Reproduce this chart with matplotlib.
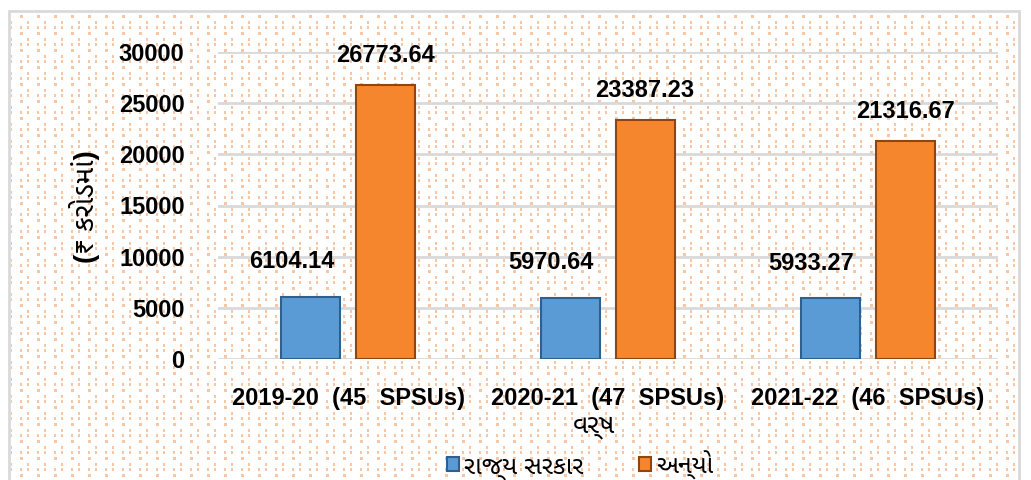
import numpy as np
import matplotlib.pyplot as plt
from matplotlib.patches import Rectangle


CATEGORIES = ["2019-20  (45  SPSUs)", "2020-21  (47  SPSUs)", "2021-22  (46  SPSUs)"]
STATE_GOVT = [6104.14, 5970.64, 5933.27]
OTHERS = [26773.64, 23387.23, 21316.67]
SERIES_NAMES = ["રાજ્ય સરકાર", "અન્યો"]
Y_TICKS = [0, 5000, 10000, 15000, 20000, 25000, 30000]
Y_LABEL = "(₹ કરોડમાં)"
X_LABEL = "વર્ષ"

FONT = ["Liberation Sans", "Noto Sans Gujarati", "DejaVu Sans"]
BLUE, BLUE_EDGE = "#5b9bd5", "#2f5f8c"
ORANGE, ORANGE_EDGE = "#f5862e", "#8f4510"
W, H = 1031, 480


def dotted_background():
    img = np.ones((H, W, 3))
    yy, xx = np.mgrid[0:H, 0:W]
    px, py = (xx - 10) % 17, (yy - 12) % 17
    dots = (((px >= 10) & (px < 13) & (py >= 3) & (py < 6))
            | ((px < 2) & (py >= 9) & (py < 12))
            | ((px >= 10) & (px < 12) & (py >= 14))
            | ((px < 2) & (py >= 14)))
    inside = (xx > 10) & (xx < 1018) & (yy > 12)
    img[dots & inside] = np.array([248, 198, 162]) / 255
    return img


def main():
    plt.rcParams["font.family"] = FONT
    fig = plt.figure(figsize=(W / 100, H / 100), dpi=100)
    fig.patch.set_facecolor("white")
    fig.figimage(dotted_background(), 0, 0, origin="upper", zorder=-10)
    fig.patches.append(Rectangle((9 / W, -0.01), 1010 / W, 1 - 11 / H + 0.01,
                                 transform=fig.transFigure, fill=False,
                                 edgecolor="#d9d9d9", linewidth=2, zorder=-5))

    ax = fig.add_axes([218 / W, 1 - 359 / H, 780 / W, 307 / H])
    ax.set_facecolor("none")
    x = np.arange(len(CATEGORIES))
    width, off = 0.227, 0.143
    b1 = ax.bar(x - off, STATE_GOVT, width, color=BLUE, edgecolor=BLUE_EDGE,
                linewidth=1.5, zorder=3, label=SERIES_NAMES[0])
    b2 = ax.bar(x + off, OTHERS, width, color=ORANGE, edgecolor=ORANGE_EDGE,
                linewidth=1.5, zorder=3, label=SERIES_NAMES[1])

    for xi, v in zip(x - off, STATE_GOVT):
        ax.annotate(f"{v:.2f}", (xi, v), xytext=(-14, 17), textcoords="offset points",
                    ha="center", va="bottom", fontsize=17, fontweight="bold",
                    annotation_clip=False)
    for xi, v in zip(x + off, OTHERS):
        ax.annotate(f"{v:.2f}", (xi, v), xytext=(0, 13), textcoords="offset points",
                    ha="center", va="bottom", fontsize=17, fontweight="bold",
                    annotation_clip=False)

    ax.set_xlim(-0.5, len(CATEGORIES) - 0.5)
    ax.set_ylim(0, 30000)
    ax.set_yticks(Y_TICKS)
    ax.set_xticks(x)
    ax.set_xticklabels(CATEGORIES, fontsize=17, fontweight="bold")
    ax.tick_params(axis="y", length=0, pad=24, labelsize=17)
    ax.tick_params(axis="x", length=0, pad=20)
    for lab in ax.get_yticklabels():
        lab.set_fontweight("bold")
    ax.grid(axis="y", color="#d9d9d9", linewidth=2, zorder=0)
    for s in ax.spines.values():
        s.set_visible(False)

    fig.text(85 / W, 1 - 207 / H, Y_LABEL, rotation=90, ha="center", va="center",
             fontsize=20, fontweight="bold")
    fig.text(594 / W, 1 - 427 / H, X_LABEL, ha="center", va="center",
             fontsize=19, fontweight="bold")

    fig.legend(handles=[b1, b2], labels=SERIES_NAMES, loc="center",
               bbox_to_anchor=(580 / W, 1 - 465 / H), ncol=2, frameon=False,
               prop={"weight": "bold", "size": 18},
               handlelength=0.5, handleheight=0.5, handletextpad=0.2,
               columnspacing=2.2)

    fig.savefig("out.png", dpi=100)


if __name__ == "__main__":
    main()
